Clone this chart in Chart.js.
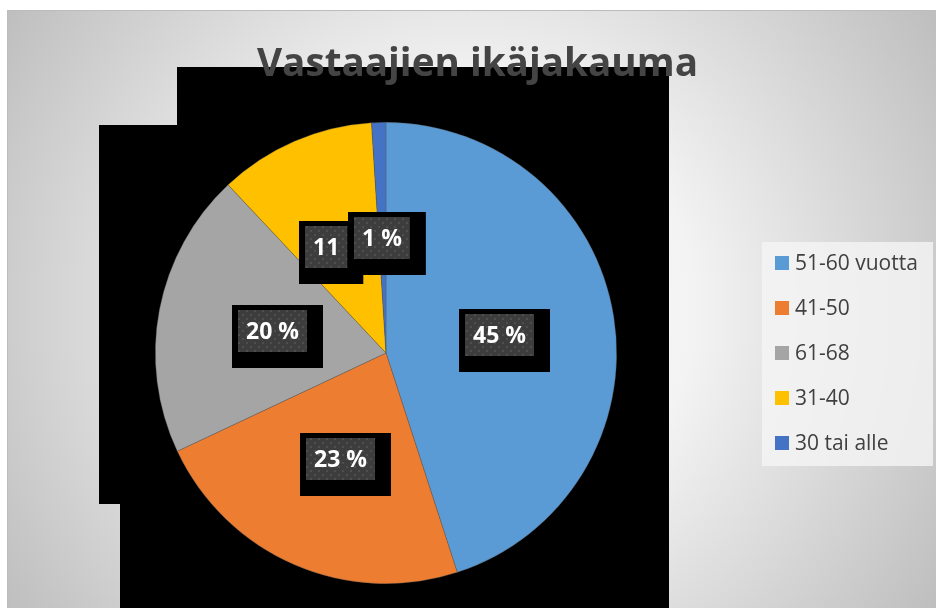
<!DOCTYPE html>
<html>
<head>
<meta charset="utf-8">
<script src="https://cdn.jsdelivr.net/npm/chart.js@4.4.1/dist/chart.umd.min.js"></script>
<style>
  html, body { margin: 0; padding: 0; background: #fff; }
  #wrap { width: 936px; height: 608px; position: relative; }
</style>
</head>
<body>
<div id="wrap"><canvas id="kaavio" width="936" height="608"></canvas></div>
<script>
// Tiedot kuvasta
const ikaryhmat = ['51-60 vuotta', '41-50', '61-68', '31-40', '30 tai alle'];
const osuudet = [45, 23, 20, 11, 1];
const nimiot = ['45 %', '23 %', '20 %', '11', '1 %'];
const varit = ['#5B9BD5', '#ED7D31', '#A5A5A5', '#FFC000', '#4472C4'];
const otsikko = 'Vastaajien ikäjakauma';

// pieni siirto nimiölle joka on päällekkäin naapurin kanssa
const nimioSiirtoX = [0, 0, 0, -14, 0];

let pisteKuvio = null;
function teeKuvio(ctx) {
  const c = document.createElement('canvas');
  c.width = 8; c.height = 8;
  const g = c.getContext('2d');
  g.fillStyle = '#3d3d3d';
  g.fillRect(0, 0, 8, 8);
  g.fillStyle = '#4e4e4e';
  g.fillRect(2, 2, 2, 2);
  g.fillRect(6, 6, 2, 2);
  return ctx.createPattern(c, 'repeat');
}

const taustaPlugin = {
  id: 'tausta',
  beforeDraw(chart) {
    const ctx = chart.ctx;
    ctx.save();
    ctx.fillStyle = '#ffffff';
    ctx.fillRect(0, 0, chart.width, chart.height);
    const grad = ctx.createRadialGradient(470, 310, 0, 470, 310, 560);
    grad.addColorStop(0, '#ffffff');
    grad.addColorStop(0.4, '#f3f3f3');
    grad.addColorStop(1, '#bdbdbd');
    ctx.fillStyle = grad;
    ctx.fillRect(7, 10, chart.width - 7, chart.height - 10);
    ctx.strokeStyle = '#bcbcbc';
    ctx.lineWidth = 1;
    ctx.beginPath();
    ctx.moveTo(7, 10.5); ctx.lineTo(chart.width, 10.5);
    ctx.moveTo(7.5, 10); ctx.lineTo(7.5, chart.height);
    ctx.stroke();

    // legendan tausta
    ctx.fillStyle = 'rgba(245,245,245,0.8)';
    ctx.fillRect(762, 242, 171, 224);

    // musta varjoalue kuvassa
    ctx.fillStyle = '#000000';
    ctx.beginPath();
    ctx.moveTo(177, 67);
    ctx.lineTo(669, 67);
    ctx.lineTo(669, 608);
    ctx.lineTo(120, 608);
    ctx.lineTo(120, 504);
    ctx.lineTo(99, 504);
    ctx.lineTo(99, 125);
    ctx.lineTo(177, 125);
    ctx.closePath();
    ctx.fill();
    ctx.restore();
  }
};

const nimioPlugin = {
  id: 'nimiot',
  afterDatasetsDraw(chart) {
    const ctx = chart.ctx;
    if (!pisteKuvio) pisteKuvio = teeKuvio(ctx);
    const kaaret = chart.getDatasetMeta(0).data;
    ctx.save();
    ctx.font = 'bold 23px "Open Sans"';
    ctx.textAlign = 'center';
    ctx.textBaseline = 'middle';
    kaaret.forEach((kaari, i) => {
      const p = kaari.getProps(['startAngle', 'endAngle', 'outerRadius', 'x', 'y'], true);
      const kulma = (p.startAngle + p.endAngle) / 2;
      const r = p.outerRadius * 0.5;
      const cx = p.x + Math.cos(kulma) * r + nimioSiirtoX[i];
      const cy = p.y + Math.sin(kulma) * r;
      const teksti = nimiot[i];
      const w = ctx.measureText(teksti).width + 16;
      const h = 42;
      const x0 = Math.round(cx - w / 2);
      const y0 = Math.round(cy - h / 2);
      ctx.fillStyle = '#000000';
      ctx.fillRect(x0 - 6, y0 - 5, w + 22, h + 21);
      ctx.fillStyle = pisteKuvio;
      ctx.fillRect(x0, y0, w, h);
      ctx.fillStyle = '#ffffff';
      ctx.fillText(teksti, x0 + w / 2, y0 + h / 2 + 1);
    });
    ctx.restore();
  },
  afterDraw(chart) {
    const ctx = chart.ctx;
    ctx.save();
    // otsikko
    ctx.font = 'bold 40px "Open Sans"';
    ctx.fillStyle = '#444444';
    ctx.textBaseline = 'alphabetic';
    ctx.textAlign = 'left';
    const leveys = ctx.measureText(otsikko).width;
    const sx = 441 / leveys;
    ctx.translate(257, 76);
    ctx.scale(sx, 1);
    ctx.fillText(otsikko, 0, 0);
    ctx.restore();

    // legenda
    ctx.save();
    ctx.font = '21px "Open Sans"';
    ctx.textBaseline = 'middle';
    ctx.textAlign = 'left';
    ikaryhmat.forEach((nimi, i) => {
      const y = 263 + i * 45;
      ctx.fillStyle = varit[i];
      ctx.fillRect(775, y - 7, 14, 14);
      ctx.fillStyle = '#404040';
      ctx.fillText(nimi, 795, y + 1);
    });
    ctx.restore();
  }
};

new Chart(document.getElementById('kaavio'), {
  type: 'pie',
  data: {
    labels: ikaryhmat,
    datasets: [{
      data: osuudet,
      backgroundColor: varit,
      borderColor: 'rgba(90,90,90,0.5)',
      borderWidth: 0.7,
      hoverOffset: 0
    }]
  },
  options: {
    responsive: false,
    animation: false,
    events: [],
    layout: {
      padding: { left: 155, right: 319, top: 122, bottom: 24 }
    },
    plugins: {
      legend: { display: false },
      tooltip: { enabled: false },
      title: { display: false }
    }
  },
  plugins: [taustaPlugin, nimioPlugin]
});
</script>
</body>
</html>
